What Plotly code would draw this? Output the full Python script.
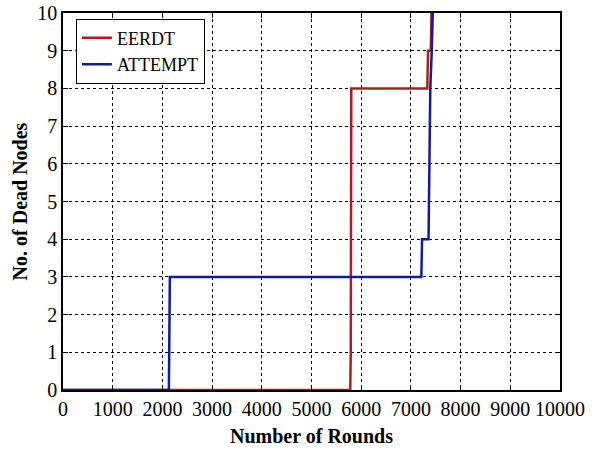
import plotly.graph_objects as go

# EERDT series (step points)
eerdt_rounds = [0, 5780, 5790, 5800, 7330, 7345, 7400, 7415]
eerdt_dead = [0, 0, 1, 8, 8, 9, 9, 10]

# ATTEMPT series
attempt_rounds = [0, 2130, 2140, 2150, 7210, 7225, 7355, 7370, 7390, 7420, 7440]
attempt_dead = [0, 0, 1.5, 3, 3, 4, 4, 6.5, 8, 9, 10]

x_ticks = [0, 1000, 2000, 3000, 4000, 5000, 6000, 7000, 8000, 9000, 10000]
y_ticks = [0, 1, 2, 3, 4, 5, 6, 7, 8, 9, 10]

fig = go.Figure()
fig.add_trace(go.Scatter(x=eerdt_rounds, y=eerdt_dead, mode="lines", name="EERDT",
                         line=dict(color="#b01c1c", width=2.5)))
fig.add_trace(go.Scatter(x=attempt_rounds, y=attempt_dead, mode="lines", name="ATTEMPT",
                         line=dict(color="#101c9c", width=2.5)))

font = "Liberation Serif, Times New Roman, serif"
fig.update_layout(
    width=594, height=453,
    margin=dict(l=63, r=34, t=13, b=63, autoexpand=False),
    paper_bgcolor="white", plot_bgcolor="white",
    font=dict(family=font, color="black", size=20),
    showlegend=True,
    legend=dict(x=0.026, y=0.985, xanchor="left", yanchor="top",
                bordercolor="black", borderwidth=1, bgcolor="white",
                font=dict(family=font, size=18), tracegroupgap=0,
                itemwidth=30),
)
fig.update_xaxes(range=[0, 10000], tickvals=x_ticks, ticktext=[str(v) for v in x_ticks],
                 showline=True, linecolor="black", linewidth=1.5, mirror="ticks",
                 ticks="inside", ticklen=5, tickcolor="black",
                 showgrid=True, gridcolor="black", griddash="dot", gridwidth=1,
                 zeroline=False, automargin=False,
                 title=dict(text="<b>Number of Rounds</b>", font=dict(size=20), standoff=10),
                 tickfont=dict(size=20))
fig.update_yaxes(range=[0, 10], tickvals=y_ticks,
                 showline=True, linecolor="black", linewidth=1.5, mirror="ticks",
                 ticks="inside", ticklen=5, tickcolor="black",
                 showgrid=True, gridcolor="black", griddash="dot", gridwidth=1,
                 zeroline=False, automargin=False,
                 title=dict(text="<b>No. of Dead Nodes</b>", font=dict(size=20), standoff=4),
                 tickfont=dict(size=20))

fig.write_html("out.html")
